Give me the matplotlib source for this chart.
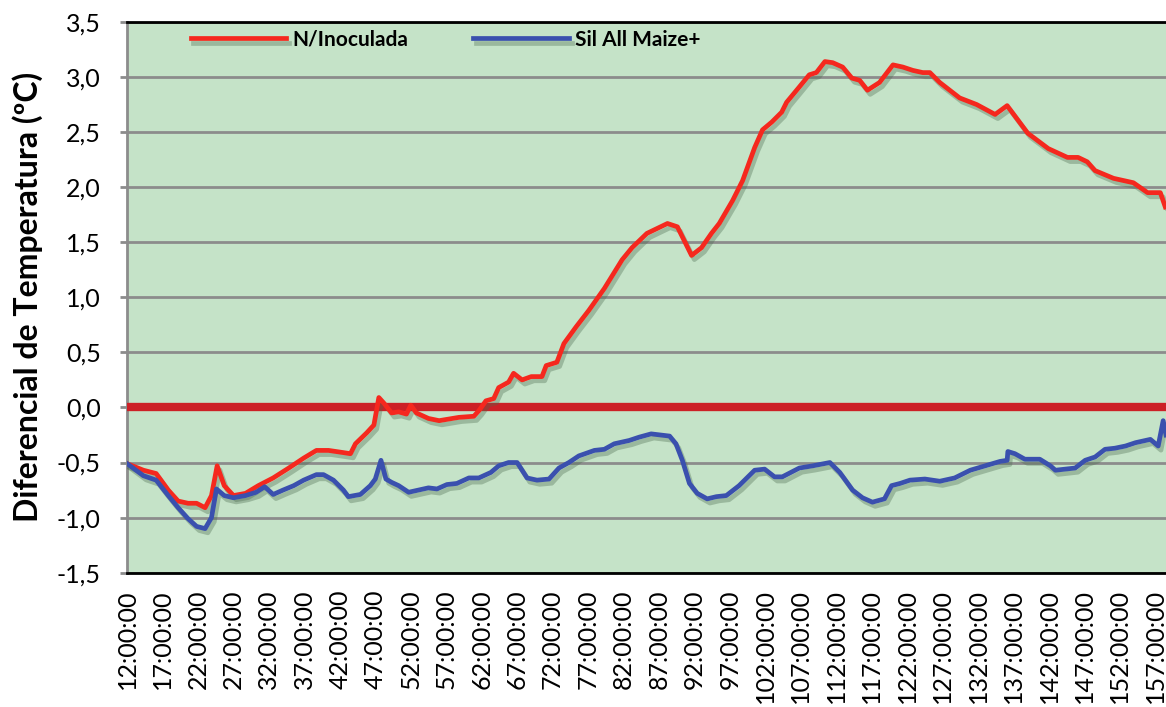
import numpy as np
import matplotlib.pyplot as plt
import matplotlib.patheffects as pe

# horas desde o inicio (h) e diferencial de temperatura (ºC)
horas_ninoc = [12.0, 14.3, 16.1, 17.8, 19.2, 20.6, 21.8, 23.0, 23.9, 24.7, 25.7, 27.0, 28.7,
               30.5, 32.6, 34.8, 36.9, 38.7, 40.4, 42.5, 43.5, 44.2, 45.8, 46.8, 47.5, 48.2,
               49.3, 50.3, 51.4, 52.0, 52.8, 54.5, 56.0, 58.8, 60.9, 61.6, 62.6, 63.7, 64.4,
               65.8, 66.5, 67.7, 69.0, 70.5, 71.1, 72.6, 73.6, 75.3, 77.1, 79.3, 81.8, 83.2,
               85.3, 88.2, 89.6, 91.6, 93.0, 94.4, 95.5, 97.4, 98.8, 100.5, 101.6, 102.9,
               104.3, 105.0, 106.8, 108.2, 109.2, 110.4, 111.5, 112.9, 114.2, 115.3, 116.4,
               118.1, 120.0, 121.4, 122.8, 124.2, 125.2, 126.6, 129.4, 131.8, 134.4, 136.1,
               139.0, 141.9, 144.6, 146.1, 147.4, 148.5, 151.1, 152.5, 153.9, 155.9, 157.7,
               158.4]
ninoculada = [-0.51, -0.57, -0.60, -0.75, -0.85, -0.87, -0.87, -0.91, -0.80, -0.53, -0.71,
              -0.80, -0.78, -0.71, -0.64, -0.55, -0.46, -0.39, -0.39, -0.41, -0.42, -0.33,
              -0.23, -0.16, 0.09, 0.04, -0.05, -0.04, -0.06, 0.02, -0.05, -0.10, -0.12, -0.09,
              -0.08, -0.03, 0.06, 0.08, 0.18, 0.23, 0.31, 0.25, 0.28, 0.28, 0.38, 0.41, 0.58,
              0.73, 0.88, 1.08, 1.34, 1.45, 1.58, 1.67, 1.64, 1.38, 1.45, 1.58, 1.67, 1.88,
              2.06, 2.36, 2.52, 2.59, 2.68, 2.77, 2.91, 3.02, 3.04, 3.14, 3.13, 3.09, 2.99,
              2.97, 2.88, 2.95, 3.11, 3.09, 3.06, 3.04, 3.04, 2.95, 2.81, 2.75, 2.66, 2.74,
              2.49, 2.35, 2.27, 2.27, 2.23, 2.15, 2.08, 2.06, 2.04, 1.95, 1.95, 1.82]

horas_sil = [12.0, 14.3, 16.1, 17.8, 19.2, 20.6, 21.8, 23.0, 23.9, 24.6, 25.7, 27.0, 28.7,
             30.2, 31.4, 32.6, 34.0, 35.5, 36.9, 38.7, 39.7, 41.1, 42.5, 43.2, 44.9, 46.3,
             47.0, 47.8, 48.5, 49.3, 50.3, 51.7, 53.1, 54.5, 55.7, 57.1, 58.5, 60.2, 61.6,
             63.3, 64.4, 65.8, 67.0, 68.4, 69.8, 71.5, 72.9, 74.3, 75.7, 77.9, 79.3, 80.7,
             82.8, 84.2, 85.9, 88.5, 89.4, 90.3, 91.3, 92.4, 93.8, 95.1, 96.5, 98.3, 100.5,
             101.9, 103.3, 104.4, 106.8, 108.7, 111.1, 112.5, 114.3, 115.7, 117.1, 118.8,
             119.8, 121.0, 122.4, 124.5, 126.6, 128.7, 130.9, 133.0, 135.1, 136.1, 136.2,
             137.2, 138.6, 140.7, 142.2, 142.9, 144.3, 145.7, 147.1, 148.5, 149.9, 151.3,
             152.8, 154.2, 156.3, 157.4, 158.1, 158.5]
sil_maize = [-0.51, -0.62, -0.66, -0.80, -0.91, -1.01, -1.08, -1.10, -1.00, -0.74, -0.80,
             -0.82, -0.80, -0.77, -0.72, -0.79, -0.75, -0.71, -0.66, -0.61, -0.61, -0.66,
             -0.75, -0.81, -0.79, -0.71, -0.65, -0.48, -0.65, -0.68, -0.71, -0.77, -0.75,
             -0.73, -0.74, -0.70, -0.69, -0.64, -0.64, -0.59, -0.53, -0.50, -0.50, -0.64,
             -0.66, -0.65, -0.55, -0.50, -0.44, -0.39, -0.38, -0.33, -0.30, -0.27, -0.24,
             -0.26, -0.33, -0.48, -0.69, -0.78, -0.83, -0.81, -0.80, -0.71, -0.57, -0.56,
             -0.63, -0.63, -0.55, -0.53, -0.50, -0.59, -0.75, -0.82, -0.86, -0.83, -0.71,
             -0.69, -0.66, -0.65, -0.67, -0.64, -0.57, -0.53, -0.49, -0.48, -0.40, -0.42,
             -0.47, -0.47, -0.53, -0.57, -0.56, -0.55, -0.48, -0.45, -0.38, -0.37, -0.35,
             -0.32, -0.29, -0.35, -0.12, -0.25]

tick_horas = list(range(12, 158, 5))
tick_labels = ['%d:00:00' % h for h in tick_horas]
y_ticks = [-1.5, -1.0, -0.5, 0.0, 0.5, 1.0, 1.5, 2.0, 2.5, 3.0, 3.5]

plt.rcParams['font.family'] = ['Lato', 'DejaVu Sans']

fig = plt.figure(figsize=(11.66, 7.07), dpi=100)
ax = fig.add_axes([0.109, 0.19, 0.891, 0.779])
ax.set_facecolor('#c5e3c8')

sombra = [pe.SimpleLineShadow(offset=(2, -3), shadow_color='#4a6a4e', alpha=0.35), pe.Normal()]

ax.axhline(0, color='#cc2026', lw=6, zorder=3)
ax.plot(horas_ninoc, ninoculada, color='#f5281e', lw=3.4, label='N/Inoculada',
        path_effects=sombra, zorder=4)
ax.plot(horas_sil, sil_maize, color='#3a50ae', lw=3.4, label='Sil All Maize+',
        path_effects=sombra, zorder=4)

ax.set_xlim(12, 158.5)
ax.set_ylim(-1.5, 3.5)
ax.set_yticks(y_ticks)
ax.set_yticklabels([('%.1f' % v).replace('.', ',') for v in y_ticks], fontsize=18)
ax.set_xticks(tick_horas)
ax.set_xticklabels(tick_labels, rotation=90, fontsize=18)
ax.tick_params(axis='x', length=0, pad=12)
ax.tick_params(axis='y', length=5, width=2, color='#8c8c8c', pad=14)

ax.yaxis.grid(True, color='#8c8c8c', lw=2)
ax.set_axisbelow(True)

for s in ['top', 'bottom']:
    ax.spines[s].set_color('black')
    ax.spines[s].set_linewidth(2)
ax.spines['left'].set_color('#8c8c8c')
ax.spines['left'].set_linewidth(2)
ax.spines['right'].set_visible(False)

ax.set_ylabel('Diferencial de Temperatura (ºC)', fontsize=23, fontweight='bold', labelpad=10)

leg = ax.legend(loc='upper left', bbox_to_anchor=(0.043, 1.02), ncol=2, frameon=False,
                prop={'weight': 'bold', 'size': 15}, handlelength=4.6, handletextpad=0.3,
                columnspacing=3.1)

plt.savefig('out.png', dpi=100)
